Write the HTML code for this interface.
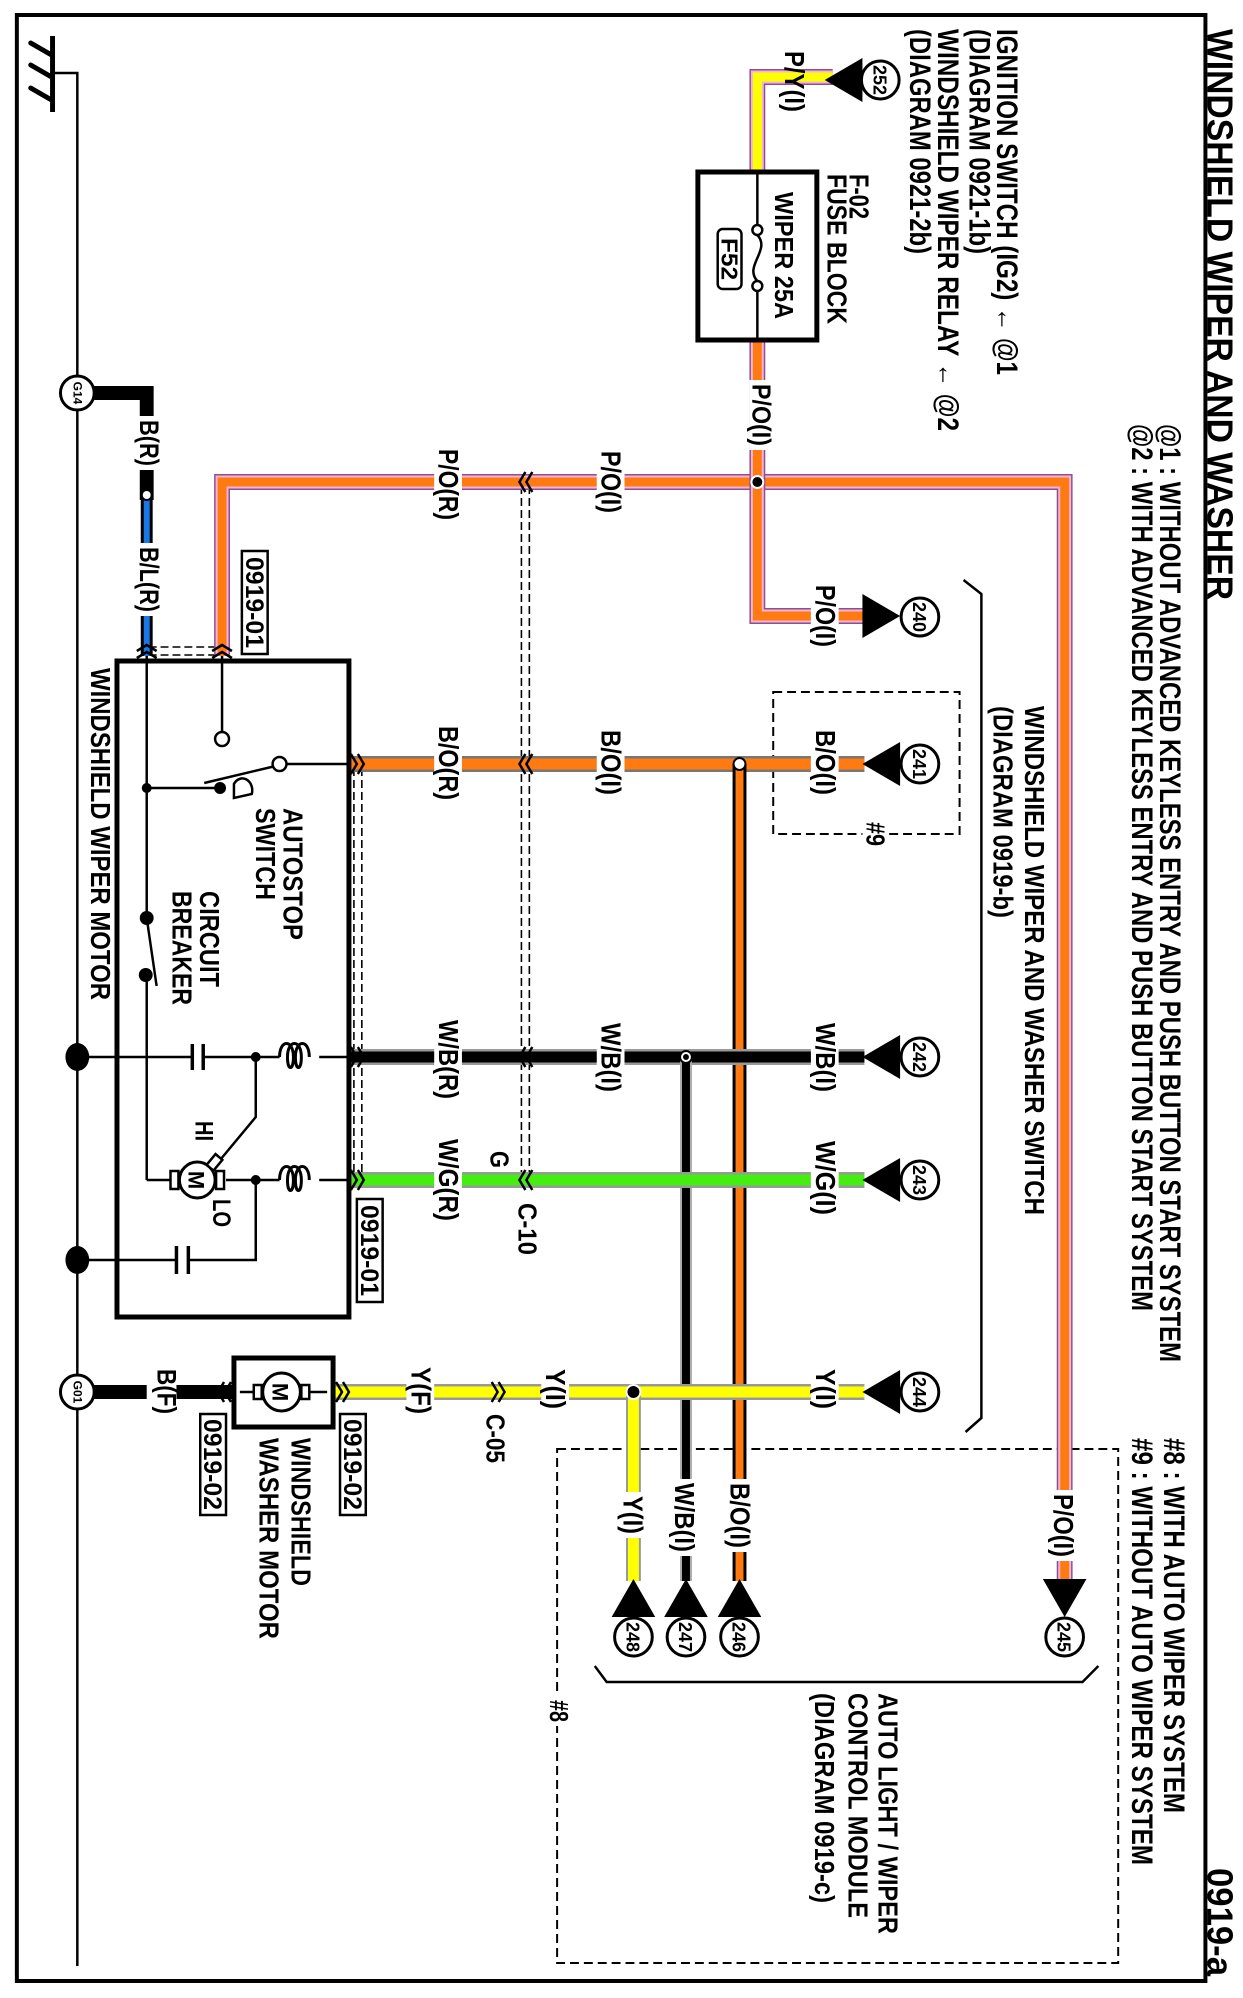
<!DOCTYPE html>
<html><head><meta charset="utf-8"><style>
html,body{margin:0;padding:0;background:#fff}
svg{display:block}
text{font-family:"Liberation Sans",Arial,sans-serif;font-weight:bold;fill:#000}
</style></head><body>
<svg width="1243" height="1998" viewBox="0 0 1243 1998" xmlns="http://www.w3.org/2000/svg">
<rect width="1243" height="1998" fill="#fff"/>
<g transform="scale(0.9913,1)">
<rect x="17" y="15" width="1199" height="1966" fill="none" stroke="#000" stroke-width="4"/>

<line x1="53" y1="36" x2="53" y2="112" stroke="#000" stroke-width="5"/>
<g stroke="#000" stroke-width="5" stroke-linecap="round">
<line x1="31" y1="43" x2="52" y2="55"/><line x1="31" y1="65" x2="52" y2="77"/><line x1="31" y1="88" x2="52" y2="100"/></g>
<polyline points="53,73 78,73 78,1966" fill="none" stroke="#000" stroke-width="2.5"/>

<rect x="780" y="692" width="188" height="142" fill="none" stroke="#000" stroke-width="2" stroke-dasharray="9,5"/>
<rect x="562" y="1449" width="566" height="514" fill="none" stroke="#000" stroke-width="2" stroke-dasharray="9,5"/>

<polyline points="972,580 990,594 990,1418 974,1432" fill="none" stroke="#000" stroke-width="2.5"/>
<polyline points="600,1666 612,1682 1092,1682 1108,1666" fill="none" stroke="#000" stroke-width="2.5"/>

<g stroke="#000" stroke-width="1.6" stroke-dasharray="8,4" fill="none">
<line x1="526" y1="486" x2="526" y2="1180"/><line x1="534" y1="486" x2="534" y2="1180"/>
<line x1="357" y1="768" x2="357" y2="1180"/><line x1="365" y1="768" x2="365" y2="1180"/>
<line x1="150" y1="647" x2="224" y2="647"/><line x1="150" y1="655" x2="224" y2="655"/>
</g>

<g fill="none" stroke-linejoin="miter">
<path d="M224 656 V482 H1074 V1581" stroke="#8e4f92" stroke-width="16"/>
<path d="M224 656 V482 H1074 V1581" stroke="#f6b4d4" stroke-width="13"/>
<path d="M224 656 V482 H1074 V1581" stroke="#ff7b12" stroke-width="9"/>
<path d="M764 340 V616 H872" stroke="#8e4f92" stroke-width="16"/>
<path d="M764 340 V616 H872" stroke="#f6b4d4" stroke-width="13"/>
<path d="M764 340 V616 H872" stroke="#ff7b12" stroke-width="9"/>
<path d="M764 172 V77 H840" stroke="#8e4f92" stroke-width="16"/>
<path d="M764 172 V77 H840" stroke="#f6b4d4" stroke-width="13"/>
<path d="M764 172 V77 H840" stroke="#ffff00" stroke-width="9"/>
<path d="M352 764 H872" stroke="#777" stroke-width="16"/>
<path d="M352 764 H872" stroke="#ff7b12" stroke-width="11"/>
<path d="M746 764 V1581" stroke="#000" stroke-width="14"/>
<path d="M746 764 V1581" stroke="#ff7b12" stroke-width="8"/>
<path d="M352 1057 H872" stroke="#999" stroke-width="16"/>
<path d="M352 1057 H872" stroke="#000" stroke-width="11"/>
<path d="M692 1057 V1581" stroke="#aaa" stroke-width="12"/>
<path d="M692 1057 V1581" stroke="#000" stroke-width="8"/>
<path d="M352 1180 H872" stroke="#999" stroke-width="16"/>
<path d="M352 1180 H872" stroke="#44ee11" stroke-width="11"/>
<path d="M336 1392 H872" stroke="#999" stroke-width="16"/>
<path d="M336 1392 H872" stroke="#ffff00" stroke-width="11"/>
<path d="M639 1392 V1581" stroke="#999" stroke-width="15"/>
<path d="M639 1392 V1581" stroke="#ffff00" stroke-width="11"/>
<path d="M95 1392 H236" stroke="#000" stroke-width="14"/>
<path d="M95 393 H148 V500" stroke="#000" stroke-width="14"/>
<path d="M148 500 V656" stroke="#000" stroke-width="12"/>
<path d="M148 500 V656" stroke="#1a78e6" stroke-width="6"/>
</g>
<circle cx="148" cy="495" r="5" fill="#fff" stroke="#000" stroke-width="2"/>

<circle cx="764" cy="482" r="6" fill="#000" stroke="#fff" stroke-width="2"/>
<circle cx="746" cy="764" r="6" fill="#fff" stroke="#000" stroke-width="2"/>
<circle cx="692" cy="1057" r="6" fill="#fff" stroke="#000" stroke-width="2"/>
<circle cx="692" cy="1057" r="3" fill="#000"/>
<circle cx="639" cy="1392" r="7" fill="#000" stroke="#fff" stroke-width="2"/>

<g fill="none" stroke="#000" stroke-width="2.5">
<path d="M354 754 L360 764 L354 774 M361 754 L367 764 L361 774"/>
<path d="M354 1047 L360 1057 L354 1067 M361 1047 L367 1057 L361 1067"/>
<path d="M354 1170 L360 1180 L354 1190 M361 1170 L367 1180 L361 1190"/>
<path d="M530 472 L524 482 L530 492 M537 472 L531 482 L537 492"/>
<path d="M530 754 L524 764 L530 774 M537 754 L531 764 L537 774"/>
<path d="M530 1047 L524 1057 L530 1067 M537 1047 L531 1057 L537 1067"/>
<path d="M530 1170 L524 1180 L530 1190 M537 1170 L531 1180 L537 1190"/>
<path d="M138 651 L148 645 L158 651 M138 658 L148 652 L158 658"/>
<path d="M214 651 L224 645 L234 651 M214 658 L224 652 L234 658"/>
<path d="M496 1382 L502 1392 L496 1402 M503 1382 L509 1392 L503 1402"/>
<path d="M339 1382 L345 1392 L339 1402 M346 1382 L352 1392 L346 1402"/>
<path d="M226 1382 L220 1392 L226 1402 M233 1382 L227 1392 L233 1402"/>
</g>

<rect x="704" y="172" width="120" height="168" fill="none" stroke="#000" stroke-width="5"/>
<rect x="757" y="176" width="14" height="160" fill="#fff"/>
<line x1="764" y1="172" x2="764" y2="225" stroke="#000" stroke-width="2.5"/>
<line x1="764" y1="291" x2="764" y2="340" stroke="#000" stroke-width="2.5"/>
<circle cx="764" cy="230" r="5" fill="#fff" stroke="#000" stroke-width="2.5"/>
<circle cx="764" cy="286" r="5" fill="#fff" stroke="#000" stroke-width="2.5"/>
<path d="M764 235 C778 250 750 266 764 281" fill="none" stroke="#000" stroke-width="2.5"/>
<rect x="724" y="229" width="24" height="60" rx="5" fill="#fff" stroke="#000" stroke-width="2.5"/>

<rect x="118" y="661" width="234" height="656" fill="none" stroke="#000" stroke-width="5"/>
<g stroke="#000" stroke-width="2.5" fill="none">
<line x1="148" y1="656" x2="148" y2="918"/>
<line x1="148" y1="975" x2="148" y2="1180"/>
<line x1="148" y1="918" x2="158" y2="986"/>
<line x1="148" y1="1180" x2="172" y2="1180"/>
<line x1="224" y1="656" x2="224" y2="732"/>
<line x1="285" y1="764" x2="352" y2="764"/>
<line x1="278" y1="766" x2="206" y2="783"/>
<line x1="148" y1="788" x2="222" y2="788"/>
<path d="M236 784 a10 12 0 0 1 18 10 l-18 4 z"/>
<line x1="78" y1="1057" x2="194" y2="1057"/>
<line x1="205" y1="1057" x2="282" y2="1057"/>
<line x1="194" y1="1044" x2="194" y2="1070" stroke-width="3.5"/>
<line x1="205" y1="1044" x2="205" y2="1070" stroke-width="3.5"/>
<path d="M282 1057 c0 -18 14 -18 14 0 c0 14 -6 14 -6 0 c0 -18 14 -18 14 0 c0 14 -6 14 -6 0 c0 -18 14 -18 14 0" stroke-width="3"/>
<line x1="322" y1="1057" x2="352" y2="1057"/>
<polyline points="258,1057 258,1117 222,1160"/>
<line x1="228" y1="1180" x2="282" y2="1180"/>
<path d="M282 1180 c0 -18 14 -18 14 0 c0 14 -6 14 -6 0 c0 -18 14 -18 14 0 c0 14 -6 14 -6 0 c0 -18 14 -18 14 0" stroke-width="3"/>
<line x1="322" y1="1180" x2="352" y2="1180"/>
<polyline points="258,1180 258,1260 190,1260"/>
<line x1="178" y1="1260" x2="78" y2="1260"/>
<line x1="190" y1="1246" x2="190" y2="1274" stroke-width="3.5"/>
<line x1="178" y1="1246" x2="178" y2="1274" stroke-width="3.5"/>
<circle cx="199" cy="1180" r="18" stroke-width="3"/>
<rect x="172" y="1171" width="8" height="18" fill="#fff" stroke-width="2.5"/>
<rect x="218" y="1171" width="8" height="18" fill="#fff" stroke-width="2.5"/>
<rect x="212" y="1155" width="9" height="14" fill="#fff" stroke-width="2.5" transform="rotate(40 216 1162)"/>
</g>
<circle cx="224" cy="739" r="7" fill="#fff" stroke="#000" stroke-width="2.5"/>
<circle cx="282" cy="764" r="7" fill="#fff" stroke="#000" stroke-width="2.5"/>
<circle cx="222" cy="788" r="6" fill="#000"/>
<circle cx="148" cy="788" r="5" fill="#000"/>
<circle cx="148" cy="918" r="7" fill="#000"/>
<circle cx="147" cy="975" r="7" fill="#000"/>
<circle cx="258" cy="1057" r="5" fill="#000"/>
<circle cx="258" cy="1180" r="5" fill="#000"/>
<ellipse cx="78" cy="1057" rx="12" ry="14" fill="#000"/>
<ellipse cx="78" cy="1260" rx="12" ry="14" fill="#000"/>

<rect x="236" y="1358" width="100" height="69" fill="#fff" stroke="#000" stroke-width="5"/>
<g stroke="#000" stroke-width="2.5" fill="#fff">
<line x1="242" y1="1392" x2="330" y2="1392"/>
<rect x="256" y="1385" width="8" height="14"/>
<rect x="304" y="1385" width="8" height="14"/>
<circle cx="284" cy="1392" r="19" stroke-width="3"/>
</g>

<g stroke="#000" stroke-width="3" fill="#fff">
<circle cx="78" cy="393" r="17"/><circle cx="78" cy="1392" r="17"/>
</g>

<g fill="#000">
<polygon points="832,80 870,58 870,102"/>
<polygon points="870,594 908,616 870,638"/>
<polygon points="870,764 908,742 908,786"/>
<polygon points="870,1057 908,1035 908,1079"/>
<polygon points="870,1180 908,1158 908,1202"/>
<polygon points="870,1392 908,1370 908,1414"/>
<polygon points="1052,1579 1096,1579 1074,1617"/>
<polygon points="746,1579 724,1617 768,1617"/>
<polygon points="692,1579 670,1617 714,1617"/>
<polygon points="639,1579 617,1617 661,1617"/>
</g>
<g stroke="#000" stroke-width="3" fill="#fff">
<circle cx="888" cy="80" r="19"/><circle cx="928" cy="617" r="19"/>
<circle cx="928" cy="764" r="19"/><circle cx="928" cy="1057" r="19"/>
<circle cx="928" cy="1180" r="19"/><circle cx="928" cy="1392" r="19"/>
<circle cx="1074" cy="1637" r="19"/><circle cx="746" cy="1637" r="19"/>
<circle cx="692" cy="1637" r="19"/><circle cx="639" cy="1637" r="19"/>
</g>

<g fill="#fff">
<rect x="756" y="380" width="18" height="70"/>
<rect x="138" y="416" width="22" height="54"/>
<rect x="138" y="543" width="22" height="73"/>
<rect x="438" y="445" width="28" height="79"/><rect x="602" y="447" width="28" height="70"/><rect x="818" y="581" width="28" height="70"/>
<rect x="438" y="722" width="28" height="82"/><rect x="602" y="726" width="28" height="73"/><rect x="818" y="726" width="28" height="73"/>
<rect x="438" y="1016" width="28" height="87"/><rect x="602" y="1019" width="28" height="77"/><rect x="818" y="1019" width="28" height="77"/>
<rect x="438" y="1135" width="28" height="90"/><rect x="818" y="1137" width="28" height="82"/>
<rect x="148" y="1365" width="30" height="53"/>
<rect x="410" y="1363" width="28" height="55"/><rect x="546" y="1365" width="28" height="48"/><rect x="818" y="1365" width="28" height="48"/>
<rect x="734" y="1479" width="28" height="73"/><rect x="678" y="1479" width="28" height="77"/><rect x="626" y="1492" width="28" height="46"/><rect x="1058" y="1490" width="28" height="71"/>
<rect x="870" y="818" width="24" height="32"/>
<rect x="550" y="1696" width="24" height="30"/>
</g>

<g fill="#fff" stroke="#000" stroke-width="2.5">
<rect x="244" y="551" width="26" height="103"/>
<rect x="360" y="1199" width="26" height="103"/>
<rect x="202" y="1414" width="26" height="101"/>
<rect x="343" y="1414" width="26" height="101"/>
</g>

<g>
<text transform="translate(1218,29) rotate(90)" font-size="36" textLength="571" lengthAdjust="spacingAndGlyphs">WINDSHIELD WIPER AND WASHER</text>
<text transform="translate(1218,1868) rotate(90)" font-size="36" textLength="108" lengthAdjust="spacingAndGlyphs">0919-a</text>

<text transform="translate(1006,29) rotate(90)" font-size="30" textLength="346" lengthAdjust="spacingAndGlyphs">IGNITION SWITCH (IG2) ← @1</text>
<text transform="translate(978,29) rotate(90)" font-size="30" textLength="225" lengthAdjust="spacingAndGlyphs">(DIAGRAM 0921-1b)</text>
<text transform="translate(946,29) rotate(90)" font-size="30" textLength="402" lengthAdjust="spacingAndGlyphs">WINDSHIELD WIPER RELAY ← @2</text>
<text transform="translate(918,29) rotate(90)" font-size="30" textLength="225" lengthAdjust="spacingAndGlyphs">(DIAGRAM 0921-2b)</text>

<text transform="translate(1170,424) rotate(90)" font-size="30" textLength="938" lengthAdjust="spacingAndGlyphs">@1 : WITHOUT ADVANCED KEYLESS ENTRY AND PUSH BUTTON START SYSTEM</text>
<text transform="translate(1142,424) rotate(90)" font-size="30" textLength="887" lengthAdjust="spacingAndGlyphs">@2 : WITH ADVANCED KEYLESS ENTRY AND PUSH BUTTON START SYSTEM</text>
<text transform="translate(1174,1438) rotate(90)" font-size="30" textLength="375" lengthAdjust="spacingAndGlyphs">#8 : WITH AUTO WIPER SYSTEM</text>
<text transform="translate(1142,1438) rotate(90)" font-size="30" textLength="427" lengthAdjust="spacingAndGlyphs">#9 : WITHOUT AUTO WIPER SYSTEM</text>

<text transform="translate(792,51) rotate(90)" font-size="28" textLength="61" lengthAdjust="spacingAndGlyphs">P/Y(I)</text>
<text transform="translate(857,174) rotate(90)" font-size="28" textLength="45" lengthAdjust="spacingAndGlyphs">F-02</text>
<text transform="translate(835,174) rotate(90)" font-size="28" textLength="150" lengthAdjust="spacingAndGlyphs">FUSE BLOCK</text>
<text transform="translate(782,192) rotate(90)" font-size="26" textLength="127" lengthAdjust="spacingAndGlyphs">WIPER 25A</text>
<text transform="translate(728,238) rotate(90)" font-size="23" textLength="42" lengthAdjust="spacingAndGlyphs">F52</text>
<text transform="translate(759,384) rotate(90)" font-size="26" textLength="62" lengthAdjust="spacingAndGlyphs">P/O(I)</text>

<text transform="translate(141,420) rotate(90)" font-size="27" textLength="46" lengthAdjust="spacingAndGlyphs">B(R)</text>
<text transform="translate(141,547) rotate(90)" font-size="27" textLength="65" lengthAdjust="spacingAndGlyphs">B/L(R)</text>

<text transform="translate(443,449) rotate(90)" font-size="28" textLength="71" lengthAdjust="spacingAndGlyphs">P/O(R)</text>
<text transform="translate(607,451) rotate(90)" font-size="28" textLength="62" lengthAdjust="spacingAndGlyphs">P/O(I)</text>
<text transform="translate(823,585) rotate(90)" font-size="28" textLength="62" lengthAdjust="spacingAndGlyphs">P/O(I)</text>
<text transform="translate(248,557) rotate(90)" font-size="25" textLength="91" lengthAdjust="spacingAndGlyphs">0919-01</text>

<text transform="translate(443,726) rotate(90)" font-size="28" textLength="74" lengthAdjust="spacingAndGlyphs">B/O(R)</text>
<text transform="translate(607,730) rotate(90)" font-size="28" textLength="65" lengthAdjust="spacingAndGlyphs">B/O(I)</text>
<text transform="translate(823,730) rotate(90)" font-size="28" textLength="65" lengthAdjust="spacingAndGlyphs">B/O(I)</text>
<text transform="translate(443,1020) rotate(90)" font-size="28" textLength="79" lengthAdjust="spacingAndGlyphs">W/B(R)</text>
<text transform="translate(607,1023) rotate(90)" font-size="28" textLength="69" lengthAdjust="spacingAndGlyphs">W/B(I)</text>
<text transform="translate(823,1023) rotate(90)" font-size="28" textLength="69" lengthAdjust="spacingAndGlyphs">W/B(I)</text>
<text transform="translate(443,1139) rotate(90)" font-size="28" textLength="82" lengthAdjust="spacingAndGlyphs">W/G(R)</text>
<text transform="translate(823,1141) rotate(90)" font-size="28" textLength="74" lengthAdjust="spacingAndGlyphs">W/G(I)</text>
<text transform="translate(495,1151) rotate(90)" font-size="26" textLength="17" lengthAdjust="spacingAndGlyphs">G</text>
<text transform="translate(523,1203) rotate(90)" font-size="26" textLength="52" lengthAdjust="spacingAndGlyphs">C-10</text>
<text transform="translate(364,1205) rotate(90)" font-size="25" textLength="91" lengthAdjust="spacingAndGlyphs">0919-01</text>

<text transform="translate(286,808) rotate(90)" font-size="28" textLength="132" lengthAdjust="spacingAndGlyphs">AUTOSTOP</text>
<text transform="translate(258,808) rotate(90)" font-size="28" textLength="92" lengthAdjust="spacingAndGlyphs">SWITCH</text>
<text transform="translate(202,891) rotate(90)" font-size="28" textLength="96" lengthAdjust="spacingAndGlyphs">CIRCUIT</text>
<text transform="translate(174,891) rotate(90)" font-size="28" textLength="114" lengthAdjust="spacingAndGlyphs">BREAKER</text>
<text transform="translate(92,668) rotate(90)" font-size="28" textLength="332" lengthAdjust="spacingAndGlyphs">WINDSHIELD WIPER MOTOR</text>
<text transform="translate(197,1121) rotate(90)" font-size="25" textLength="20" lengthAdjust="spacingAndGlyphs">HI</text>
<text transform="translate(215,1199) rotate(90)" font-size="25" textLength="28" lengthAdjust="spacingAndGlyphs">LO</text>
<text transform="translate(190,1180) rotate(90)" font-size="22" text-anchor="middle">M</text>

<text transform="translate(1034,706) rotate(90)" font-size="28" textLength="509" lengthAdjust="spacingAndGlyphs">WINDSHIELD WIPER AND WASHER SWITCH</text>
<text transform="translate(1002,706) rotate(90)" font-size="28" textLength="212" lengthAdjust="spacingAndGlyphs">(DIAGRAM 0919-b)</text>
<text transform="translate(874,822) rotate(90)" font-size="26" textLength="24" lengthAdjust="spacingAndGlyphs">#9</text>

<text transform="translate(159,1369) rotate(90)" font-size="27" textLength="45" lengthAdjust="spacingAndGlyphs">B(F)</text>
<text transform="translate(206,1419) rotate(90)" font-size="25" textLength="91" lengthAdjust="spacingAndGlyphs">0919-02</text>
<text transform="translate(347,1419) rotate(90)" font-size="25" textLength="91" lengthAdjust="spacingAndGlyphs">0919-02</text>
<text transform="translate(294,1438) rotate(90)" font-size="28" textLength="148" lengthAdjust="spacingAndGlyphs">WINDSHIELD</text>
<text transform="translate(262,1438) rotate(90)" font-size="28" textLength="201" lengthAdjust="spacingAndGlyphs">WASHER MOTOR</text>
<text transform="translate(275,1392) rotate(90)" font-size="22" text-anchor="middle">M</text>
<text transform="translate(415,1367) rotate(90)" font-size="28" textLength="47" lengthAdjust="spacingAndGlyphs">Y(F)</text>
<text transform="translate(491,1414) rotate(90)" font-size="26" textLength="49" lengthAdjust="spacingAndGlyphs">C-05</text>
<text transform="translate(551,1369) rotate(90)" font-size="28" textLength="40" lengthAdjust="spacingAndGlyphs">Y(I)</text>
<text transform="translate(823,1369) rotate(90)" font-size="28" textLength="40" lengthAdjust="spacingAndGlyphs">Y(I)</text>

<text transform="translate(737,1483) rotate(90)" font-size="28" textLength="65" lengthAdjust="spacingAndGlyphs">B/O(I)</text>
<text transform="translate(681,1483) rotate(90)" font-size="28" textLength="69" lengthAdjust="spacingAndGlyphs">W/B(I)</text>
<text transform="translate(629,1496) rotate(90)" font-size="28" textLength="38" lengthAdjust="spacingAndGlyphs">Y(I)</text>
<text transform="translate(1063,1494) rotate(90)" font-size="28" textLength="63" lengthAdjust="spacingAndGlyphs">P/O(I)</text>

<text transform="translate(886,1693) rotate(90)" font-size="28" textLength="241" lengthAdjust="spacingAndGlyphs">AUTO LIGHT / WIPER</text>
<text transform="translate(856,1693) rotate(90)" font-size="28" textLength="225" lengthAdjust="spacingAndGlyphs">CONTROL MODULE</text>
<text transform="translate(822,1693) rotate(90)" font-size="28" textLength="210" lengthAdjust="spacingAndGlyphs">(DIAGRAM 0919-c)</text>
<text transform="translate(555,1700) rotate(90)" font-size="26" textLength="22" lengthAdjust="spacingAndGlyphs">#8</text>

<g font-size="19" text-anchor="middle">
<text transform="translate(881,80) rotate(90)" textLength="30" lengthAdjust="spacingAndGlyphs">252</text>
<text transform="translate(921,617) rotate(90)" textLength="30" lengthAdjust="spacingAndGlyphs">240</text>
<text transform="translate(921,764) rotate(90)" textLength="30" lengthAdjust="spacingAndGlyphs">241</text>
<text transform="translate(921,1057) rotate(90)" textLength="30" lengthAdjust="spacingAndGlyphs">242</text>
<text transform="translate(921,1180) rotate(90)" textLength="30" lengthAdjust="spacingAndGlyphs">243</text>
<text transform="translate(921,1392) rotate(90)" textLength="30" lengthAdjust="spacingAndGlyphs">244</text>
<text transform="translate(1067,1637) rotate(90)" textLength="30" lengthAdjust="spacingAndGlyphs">245</text>
<text transform="translate(739,1637) rotate(90)" textLength="30" lengthAdjust="spacingAndGlyphs">246</text>
<text transform="translate(685,1637) rotate(90)" textLength="30" lengthAdjust="spacingAndGlyphs">247</text>
<text transform="translate(632,1637) rotate(90)" textLength="30" lengthAdjust="spacingAndGlyphs">248</text>
</g>
<g font-size="12" text-anchor="middle">
<text transform="translate(74,393) rotate(90)">G14</text>
<text transform="translate(74,1392) rotate(90)">G01</text>
</g>
</g>
</g>
</svg>
</body></html>
